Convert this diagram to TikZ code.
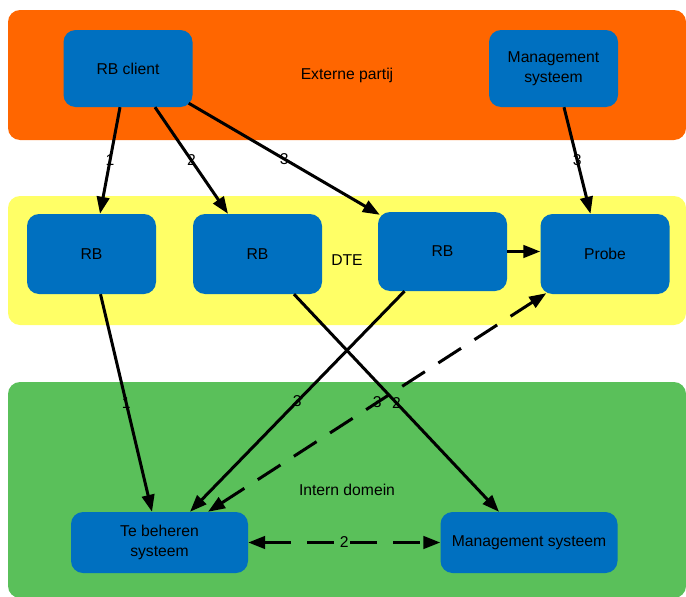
\documentclass[tikz,border=0pt]{standalone}
\usepackage{fontspec}
\setsansfont{Liberation Sans}
\tikzset{every picture/.style={/utils/exec={\sffamily}}}
\usetikzlibrary{calc}
\usetikzlibrary{positioning}
\usetikzlibrary{arrows.meta}
\definecolor{extorange}{HTML}{FF6600}
\definecolor{dteyellow}{HTML}{FFFF66}
\definecolor{interngreen}{HTML}{5AC05A}
\definecolor{boxblue}{HTML}{0070C0}

\begin{document}
\begin{tikzpicture}[x=1pt,y=-1pt,
  every node/.style={font=\fontsize{15.7}{19.5}\selectfont},
  band/.style={fill=#1,rounded corners=12pt,minimum width=678pt,inner sep=0pt},
  box/.style={fill=boxblue,rounded corners=12pt,minimum width=129pt,minimum height=80pt,align=center,inner sep=2pt},
  widebox/.style={box,minimum width=177pt,minimum height=61pt},
  conn/.style={line width=3pt,-{Triangle[length=17pt,width=12.5pt]}},
  dconn/.style={line width=3pt,dash pattern=on 27pt off 16pt,{Triangle[length=17pt,width=12.5pt]}-{Triangle[length=17pt,width=12.5pt]}}]
  \useasboundingbox (0,0) rectangle (686,597);

  \node [band=extorange, minimum height=130pt] (extern) at (347,75) {Externe partij};
  \node [band=dteyellow, minimum height=129pt] (dte) at (347,260.5) {DTE};
  \node [band=interngreen, minimum height=216pt] (intern) at (347,490) {Intern domein};

  \node [box, minimum height=77pt] (client) at (128,68.5) {RB client};
  \node [box, minimum height=77pt] (mgmtext) at (553.5,68.5) {Management\\systeem};

  \node [box] (rbA) at (91.5,254) {RB};
  \node [box] (rbB) at (257.5,254) {RB};
  \node [box, minimum height=79pt] (rbC) at (442.5,251.5) {RB};
  \node [box] (probe) at (605,254) {Probe};

  \node [widebox] (target) at (159.5,542.5) {Te beheren\\systeem};
  \node [widebox] (mgmtint) at (529,542.5) {Management systeem};

  \draw [conn] ([xshift=-8pt]client.south) -- node {1} ([xshift=8.5pt]rbA.north);
  \draw [conn] ([xshift=27pt]client.south) -- node {2} ([xshift=-29.5pt]rbB.north);
  \draw [conn] ([xshift=-4pt,yshift=4pt]client.south east) -- node {3} ([xshift=2pt,yshift=-3pt]rbC.north west);
  \draw [conn] ([xshift=10.5pt]mgmtext.south) -- node {3} ([xshift=-14.5pt]probe.north);
  \draw [conn] (rbC.east) -- (rbC.east -| probe.west);

  \draw [conn] ([xshift=9pt]rbA.south) -- node {1} ([xshift=-7.5pt]target.north);
  \draw [conn] ([xshift=36.5pt]rbB.south) -- node {2} ([xshift=-30pt]mgmtint.north);
  \draw [conn] ([xshift=-38pt]rbC.south) -- node {3} ([xshift=30.5pt]target.north);
  \draw [dconn] ([xshift=48.5pt]target.north) -- node {3} ([xshift=6pt,yshift=1pt]probe.south west);
  \draw [dconn] (target.east) -- node {2} (mgmtint.west);
\end{tikzpicture}
\end{document}
